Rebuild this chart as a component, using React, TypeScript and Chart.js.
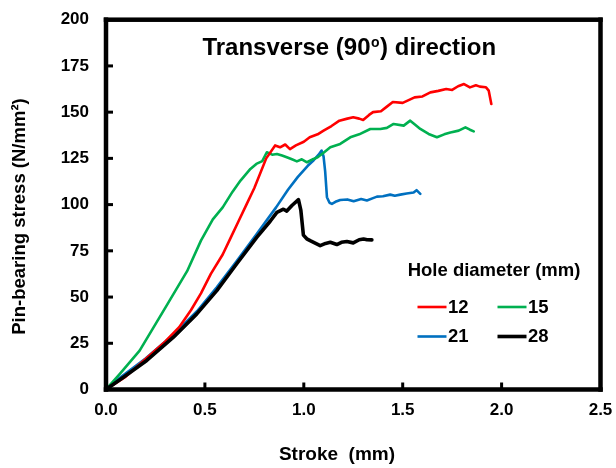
import React, { useEffect, useRef } from "react";
import { Chart, registerables } from "chart.js";

Chart.register(...registerables);

// ---- data ----
const xTickValues = [0, 0.5, 1.0, 1.5, 2.0, 2.5];
const yTickValues = [0, 25, 50, 75, 100, 125, 150, 175, 200];

const seriesLabels = ["12", "15", "21", "28"];
const seriesColors = ["#FF0000", "#00B050", "#0070C0", "#000000"];

const d12X = [0, 0.1, 0.2, 0.3, 0.37, 0.43, 0.48, 0.53, 0.59, 0.63, 0.67, 0.71, 0.75, 0.81, 0.855, 0.88, 0.906, 0.93, 0.96, 1.0, 1.03, 1.07, 1.1, 1.14, 1.18, 1.22, 1.25, 1.28, 1.3, 1.33, 1.35, 1.39, 1.42, 1.45, 1.5, 1.53, 1.56, 1.6, 1.64, 1.68, 1.72, 1.75, 1.78, 1.81, 1.84, 1.87, 1.89, 1.92, 1.935, 1.948];
const d12Y = [0, 7, 16.5, 26, 33.7, 43, 52, 62.5, 73, 82, 91, 100, 109, 125, 132, 131, 132.5, 130, 132, 134, 136.4, 138, 140, 142.5, 145.4, 146.5, 147.2, 146.5, 145.8, 148.5, 150, 150.5, 153, 155.5, 155, 156.5, 158, 158.5, 160.7, 161.5, 162.5, 162, 164, 165.2, 163.4, 164.5, 163.8, 163.5, 161.6, 154.4];

const d15X = [0, 0.07, 0.17, 0.31, 0.41, 0.48, 0.54, 0.59, 0.64, 0.68, 0.73, 0.76, 0.79, 0.813, 0.84, 0.864, 0.89, 0.914, 0.94, 0.965, 0.99, 1.016, 1.049, 1.07, 1.1, 1.134, 1.184, 1.235, 1.28, 1.336, 1.387, 1.42, 1.454, 1.505, 1.538, 1.56, 1.589, 1.631, 1.673, 1.71, 1.741, 1.783, 1.817, 1.84, 1.859];
const d15Y = [0, 8.5, 21, 46, 64, 80.5, 92, 98.5, 107, 113, 119.3, 122, 123.5, 128.3, 127, 127.4, 126.5, 125.6, 124.5, 123.4, 124.5, 122.9, 124.7, 125.6, 128, 131, 132.8, 136.4, 138, 140.9, 140.9, 141.5, 143.6, 142.7, 145.4, 143.5, 140.9, 138.2, 136.4, 138, 139, 140, 141.8, 140.5, 139.6];

const d21X = [0, 0.07, 0.2, 0.34, 0.46, 0.56, 0.66, 0.76, 0.86, 0.92, 0.97, 1.02, 1.05, 1.075, 1.09, 1.1, 1.108, 1.117, 1.13, 1.142, 1.16, 1.184, 1.22, 1.252, 1.29, 1.319, 1.35, 1.37, 1.4, 1.437, 1.46, 1.488, 1.52, 1.555, 1.57, 1.589];
const d21Y = [0, 6.3, 16.8, 29.6, 42.3, 55.3, 69.3, 83.8, 98.5, 108, 115, 121, 124, 127, 129.2, 126, 118, 104, 101, 100.4, 101.5, 102.5, 102.8, 101.8, 103, 102.2, 103.5, 104.3, 104.5, 105.4, 104.8, 105.4, 106, 106.5, 107.8, 105.8];

const d28X = [0, 0.088, 0.206, 0.341, 0.459, 0.56, 0.661, 0.762, 0.83, 0.864, 0.897, 0.914, 0.94, 0.973, 0.985, 0.998, 1.015, 1.032, 1.06, 1.083, 1.11, 1.134, 1.167, 1.19, 1.218, 1.25, 1.28, 1.302, 1.32, 1.344];
const d28Y = [0, 6.6, 15.7, 28.3, 40.9, 53.5, 68, 82.3, 91, 95.8, 97.5, 96.5, 99.5, 102.7, 97, 83.5, 81.5, 80.5, 79, 77.8, 79, 79.6, 78.4, 79.6, 80, 79.3, 81, 81.4, 81, 80.9];

const titleMain = "Transverse (90";
const titleSup = "o";
const titleEnd = ") direction";
const legendTitle = "Hole diameter (mm)";
const xAxisTitle = "Stroke  (mm)";
const yAxisTitle = "Pin-bearing stress (N/mm\u00B2)";

const FONT = "'Liberation Sans', Arial, sans-serif";

const toPoints = (xs: number[], ys: number[]) => xs.map((x, i) => ({ x, y: ys[i] }));

const textPlugin = {
  id: "texts",
  afterDraw(chart: any) {
    const ctx: CanvasRenderingContext2D = chart.ctx;
    const ca = chart.chartArea;
    ctx.save();
    ctx.fillStyle = "#000";
    // title
    const cx = (ca.left + ca.right) / 2 - 4;
    ctx.textBaseline = "alphabetic";
    ctx.textAlign = "left";
    const big = `bold 24px ${FONT}`;
    const small = `bold 14px ${FONT}`;
    ctx.font = big;
    const w1 = ctx.measureText(titleMain).width;
    const w3 = ctx.measureText(titleEnd).width;
    ctx.font = small;
    const w2 = ctx.measureText(titleSup).width + 1;
    const x0 = cx - (w1 + w2 + w3) / 2;
    const base = 55;
    ctx.font = big;
    ctx.fillText(titleMain, x0, base);
    ctx.font = small;
    ctx.fillText(titleSup, x0 + w1 + 0.5, base - 8.5);
    ctx.font = big;
    ctx.fillText(titleEnd, x0 + w1 + w2, base);

    // axis titles
    ctx.textAlign = "center";
    ctx.textBaseline = "middle";
    ctx.font = `bold 19px ${FONT}`;
    ctx.fillText(xAxisTitle, 337, 455);
    ctx.save();
    ctx.translate(20, 216.5);
    ctx.rotate(-Math.PI / 2);
    ctx.font = `bold 18.5px ${FONT}`;
    ctx.fillText(yAxisTitle, 0, 0);
    ctx.restore();

    // legend
    ctx.font = `bold 18.5px ${FONT}`;
    ctx.fillText(legendTitle, 494, 271);
    const cols = [417.5, 497.5];
    const rows = [307, 336.5];
    chart.data.datasets.forEach((ds: any, i: number) => {
      const lx = cols[i % 2];
      const ly = rows[Math.floor(i / 2)];
      ctx.fillStyle = ds.borderColor;
      ctx.fillRect(lx, ly - ds.borderWidth / 2, 29, ds.borderWidth);
      ctx.fillStyle = "#000";
      ctx.textAlign = "left";
      ctx.fillText(ds.label, lx + 30.5, ly + 0.5);
    });
    ctx.restore();
  },
};

const framePlugin = {
  id: "frame",
  afterDraw(chart: any) {
    const ctx: CanvasRenderingContext2D = chart.ctx;
    const sx = chart.scales.x;
    const sy = chart.scales.y;
    const x0 = sx.getPixelForValue(xTickValues[0]);
    const x1 = sx.getPixelForValue(xTickValues[xTickValues.length - 1]);
    const y0 = sy.getPixelForValue(yTickValues[0]);
    const y1 = sy.getPixelForValue(yTickValues[yTickValues.length - 1]);
    ctx.save();
    ctx.fillStyle = "#000000";
    for (let i = 1; i < yTickValues.length - 1; i++) {
      const py = sy.getPixelForValue(yTickValues[i]);
      ctx.fillRect(x0, py - 1.5, 7, 3);
    }
    for (let i = 1; i < xTickValues.length - 1; i++) {
      const px = sx.getPixelForValue(xTickValues[i]);
      ctx.fillRect(px - 1.5, y0 - 7, 3, 7);
    }
    const lw = 4.5;
    const hw = lw / 2;
    ctx.fillRect(x0 - hw, y1 - hw, x1 - x0 + lw, lw);
    ctx.fillRect(x0 - hw, y0 - hw, x1 - x0 + lw, lw);
    ctx.fillRect(x0 - hw, y1 - hw, lw, y0 - y1 + lw);
    ctx.fillRect(x1 - hw, y1 - hw, lw, y0 - y1 + lw);
    ctx.restore();
  },
};

export default function App() {
  const canvasRef = useRef<HTMLCanvasElement | null>(null);

  useEffect(() => {
    const canvas = canvasRef.current;
    if (!canvas) return;
    const xs = [d12X, d15X, d21X, d28X];
    const ys = [d12Y, d15Y, d21Y, d28Y];
    const widths = [2.6, 2.6, 2.6, 3.6];
    const orders = [2, 3, 4, 1];
    const chart = new Chart(canvas, {
      type: "scatter",
      data: {
        datasets: seriesLabels.map((label, i) => ({
          label,
          data: toPoints(xs[i], ys[i]),
          showLine: true,
          borderColor: seriesColors[i],
          backgroundColor: seriesColors[i],
          borderWidth: widths[i],
          pointRadius: 0,
          borderJoinStyle: "round" as const,
          borderCapStyle: "round" as const,
          tension: 0,
          order: orders[i],
        })),
      },
      options: {
        responsive: false,
        animation: false,
        devicePixelRatio: 1,
        layout: { padding: { left: 0, top: 19.7, right: 15.5, bottom: 0 } },
        plugins: {
          legend: { display: false },
          tooltip: { enabled: false },
          title: { display: false },
        },
        scales: {
          x: {
            type: "linear",
            min: 0,
            max: 2.5,
            afterFit: (s: any) => {
              s.height = 78.5;
              s.paddingLeft = 0;
              s.paddingRight = 0;
            },
            afterBuildTicks: (s: any) => {
              s.ticks = xTickValues.map((v) => ({ value: v }));
            },
            ticks: {
              color: "#000",
              padding: 11,
              font: { family: FONT, size: 17, weight: "bold" },
              callback: (v: any) => Number(v).toFixed(1),
              maxRotation: 0,
            },
            grid: { display: false, drawTicks: false },
            border: { display: false },
            title: { display: false },
          },
          y: {
            type: "linear",
            min: 0,
            max: 200,
            afterFit: (s: any) => {
              s.width = 106;
              s.paddingTop = 0;
              s.paddingBottom = 0;
            },
            afterBuildTicks: (s: any) => {
              s.ticks = yTickValues.map((v) => ({ value: v }));
            },
            ticks: {
              color: "#000",
              padding: 17,
              font: { family: FONT, size: 17, weight: "bold" },
            },
            grid: { display: false, drawTicks: false },
            border: { display: false },
            title: { display: false },
          },
        },
      },
      plugins: [textPlugin, framePlugin],
    } as any);
    return () => chart.destroy();
  }, []);

  return (
    <div style={{ position: "absolute", left: 0, top: 0, width: 616, height: 468, background: "#fff" }}>
      <canvas ref={canvasRef} width={616} height={468} style={{ display: "block" }} />
    </div>
  );
}
